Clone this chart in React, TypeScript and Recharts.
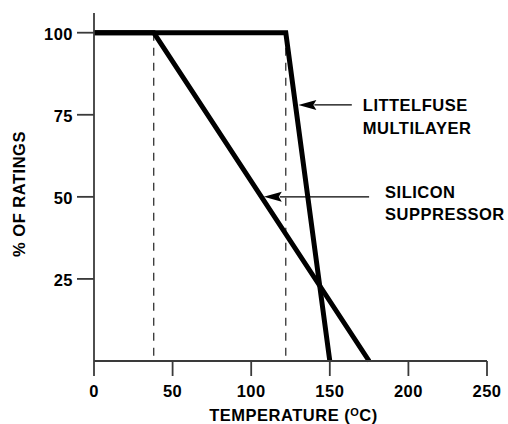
import { LineChart, Line, XAxis, YAxis, ReferenceLine } from "recharts"

// temperature (°C) vs % of ratings
const xTicks = [0, 50, 100, 150, 200, 250]
const yTicks = [25, 50, 75, 100]

const siliconTemp = [0, 38, 175]
const siliconRating = [100, 100, 0]
const multilayerTemp = [0, 122, 150]
const multilayerRating = [100, 100, 0]

// dashed markers at the knee points
const kneeTemps = [38, 122]

// callout arrows: start temp, tip temp, rating level, text
const calloutFrom = [164, 175]
const calloutTo = [130, 108]
const calloutRating = [78, 50]
const calloutText = [
  ["LITTELFUSE", "MULTILAYER"],
  ["SILICON", "SUPPRESSOR"],
]

const siliconData = siliconTemp.map((t, i) => ({ t, v: siliconRating[i] }))
const multilayerData = multilayerTemp.map((t, i) => ({ t, v: multilayerRating[i] }))

const font = "'Liberation Sans', Arial, Helvetica, sans-serif"
const textStyle = { fontFamily: font, fontWeight: 700, fontSize: 16.5, letterSpacing: 0.5, fill: "#000" }
const axisColor = "#3a3a3a"

const XTick = (p: any) => (
  <text x={p.x} y={p.y} dy={19} textAnchor="middle" style={textStyle}>
    {p.payload.value}
  </text>
)

const YTick = (p: any) => (
  <text x={p.x - 2} y={p.y} dy={7.5} textAnchor="end" style={textStyle}>
    {p.payload.value}
  </text>
)

const XTitle = (p: any) => {
  const vb = p.viewBox || { x: 94, y: 361, width: 393, height: 63 }
  return (
    <text x={vb.x + vb.width / 2 + 3} y={vb.y + 60} textAnchor="middle" style={textStyle}>
      TEMPERATURE (
      <tspan fontSize={11} dy={-5}>O</tspan>
      <tspan dy={5}>C)</tspan>
    </text>
  )
}

const YTitle = (p: any) => {
  const vb = p.viewBox || { x: 0, y: 13, width: 94, height: 348 }
  const cx = vb.x + 25
  const cy = vb.y + vb.height / 2 + 7
  return (
    <text x={cx} y={cy} transform={`rotate(-90 ${cx} ${cy})`} textAnchor="middle" style={textStyle}>
      % OF RATINGS
    </text>
  )
}

const Callout = ({ x1, y1, x2, y2, lines, dx, dy, gap }: any) => {
  const head = 18
  const half = 5
  const bx = x2 + head
  return (
    <g>
      <line x1={x1} y1={y1} x2={bx - 2} y2={y2} stroke="#000" strokeWidth={1.4} />
      <polygon points={`${x2},${y2} ${bx},${y2 - half} ${bx - 3},${y2} ${bx},${y2 + half}`} fill="#000" />
      <text x={x1 + dx} y={y1 + dy} style={textStyle}>
        {lines[0]}
      </text>
      <text x={x1 + dx} y={y1 + dy + gap} style={textStyle}>
        {lines[1]}
      </text>
    </g>
  )
}

const calloutOffsets = [
  { dx: 11, dy: 6, gap: 23 },
  { dx: 16, dy: 1, gap: 22 },
]

export default function App() {
  return (
    <div style={{ position: "absolute", left: 0, top: 0, background: "#fff" }}>
      <LineChart width={508} height={424} margin={{ top: 13, right: 21, bottom: 0, left: 0 }}>
        <XAxis
          type="number"
          dataKey="t"
          domain={[0, 250]}
          ticks={xTicks}
          interval={0}
          height={63}
          tickSize={15}
          axisLine={{ stroke: axisColor, strokeWidth: 1.8 }}
          tickLine={{ stroke: axisColor, strokeWidth: 1.8 }}
          tick={XTick}
          label={XTitle}
        />
        <YAxis
          type="number"
          domain={[0, 106]}
          ticks={yTicks}
          interval={0}
          width={94}
          tickSize={17}
          axisLine={{ stroke: axisColor, strokeWidth: 1.8 }}
          tickLine={{ stroke: axisColor, strokeWidth: 1.8 }}
          tick={YTick}
          label={YTitle}
        />
        {kneeTemps.map((t) => (
          <ReferenceLine
            key={t}
            segment={[
              { x: t, y: 100 },
              { x: t, y: 0 },
            ]}
            stroke="#222"
            strokeWidth={1.2}
            strokeDasharray="8 7"
          />
        ))}
        <Line
          data={siliconData}
          dataKey="v"
          type="linear"
          stroke="#000"
          strokeWidth={5}
          dot={false}
          activeDot={false}
          isAnimationActive={false}
        />
        <Line
          data={multilayerData}
          dataKey="v"
          type="linear"
          stroke="#000"
          strokeWidth={5}
          dot={false}
          activeDot={false}
          isAnimationActive={false}
        />
        {calloutText.map((lines, i) => (
          <ReferenceLine
            key={lines[0]}
            segment={[
              { x: calloutFrom[i], y: calloutRating[i] },
              { x: calloutTo[i], y: calloutRating[i] },
            ]}
            shape={(p: any) => <Callout {...p} lines={lines} {...calloutOffsets[i]} />}
          />
        ))}
      </LineChart>
    </div>
  )
}
